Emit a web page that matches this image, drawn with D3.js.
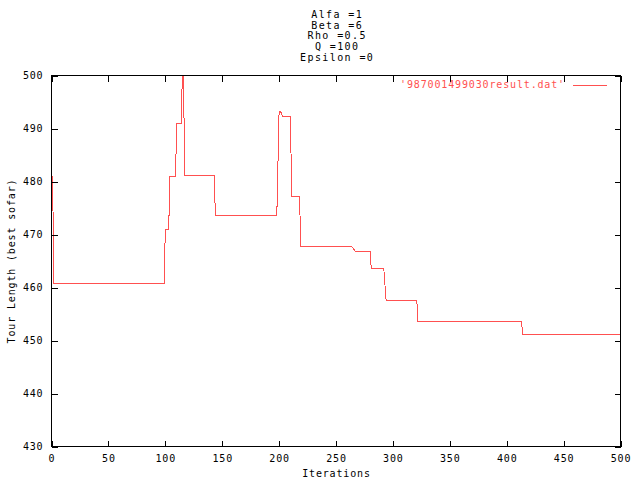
<!DOCTYPE html>
<html>
<head>
<meta charset="utf-8">
<script src="https://cdn.jsdelivr.net/npm/d3@7"></script>
<style>
  html, body { margin: 0; padding: 0; background: #fff; }
  svg { display: block; }
  text { font-family: "DejaVu Sans Mono", monospace; font-size: 10px; letter-spacing: 0.85px; fill: #000; }
  text.title { letter-spacing: 1.4px; }
</style>
</head>
<body>
<script>
// ---- data ----
const iterations = [0, 1, 2, 99, 100, 103, 104, 109, 110, 114, 115, 116, 117, 143, 144,
  198, 200, 201, 202, 203, 210, 211, 218, 219, 264, 265, 266, 267, 280, 281, 292, 294,
  321, 322, 413, 414, 500];
const tourLengths = [481, 481, 460.8, 460.8, 470.9, 470.9, 481, 481, 490.9, 490.9, 500.5, 500.5, 481.2, 481.2, 473.6,
  473.6, 493.3, 493.3, 492.9, 492.3, 492.3, 477.2, 477.2, 467.7, 467.7, 467.4, 467.15, 466.7, 466.7, 463.6, 463.6, 457.6,
  457.6, 453.6, 453.6, 451.2, 451.2];
const xTickValues = [0, 50, 100, 150, 200, 250, 300, 350, 400, 450, 500];
const yTickValues = [430, 440, 450, 460, 470, 480, 490, 500];
const titleLines = ["Alfa =1", "Beta =6", "Rho =0.5", "Q =100", "Epsilon =0"];
const xLabel = "Iterations";
const yLabel = "Tour Length (best sofar)";
const seriesName = "'987001499030result.dat'";

// ---- layout ----
const W = 640, H = 480;
const pL = 51.5, pR = 620.5, pT = 75.5, pB = 446.5;
const red = "#ff5050";

const svg = d3.select("body").append("svg").attr("width", W).attr("height", H);

const x = d3.scaleLinear().domain([0, 500]).range([pL, pR]);
const y = d3.scaleLinear().domain([430, 500]).range([pB, pT]);

// clip
svg.append("clipPath").attr("id", "plotclip")
  .append("rect").attr("x", pL).attr("y", pT).attr("width", pR - pL).attr("height", pB - pT);

// data line
const line = d3.line().x((d, i) => x(iterations[i])).y((d, i) => y(tourLengths[i]));
svg.append("path")
  .datum(tourLengths)
  .attr("clip-path", "url(#plotclip)")
  .attr("d", line)
  .attr("fill", "none")
  .attr("stroke", red)
  .attr("stroke-width", 1)
  .attr("shape-rendering", "crispEdges");

// axes with inward ticks (mirrored)
const tick = 6;
function styleAxis(g) {
  g.select(".domain").remove();
  g.selectAll(".tick line").attr("stroke", "#000").attr("shape-rendering", "crispEdges");
  g.selectAll("text").attr("fill", "#000");
  g.attr("font-family", null).attr("font-size", null);
}
svg.append("g").attr("transform", `translate(0,${pB})`)
  .call(d3.axisBottom(x).tickValues(xTickValues).tickSizeInner(-tick).tickSizeOuter(0).tickPadding(8))
  .call(styleAxis);
svg.append("g").attr("transform", `translate(0,${pT})`)
  .call(d3.axisTop(x).tickValues(xTickValues).tickSizeInner(-tick).tickSizeOuter(0).tickFormat(""))
  .call(styleAxis);
svg.append("g").attr("transform", `translate(${pL},0)`)
  .call(d3.axisLeft(y).tickValues(yTickValues).tickSizeInner(-tick).tickSizeOuter(0).tickPadding(8))
  .call(styleAxis);
svg.append("g").attr("transform", `translate(${pR},0)`)
  .call(d3.axisRight(y).tickValues(yTickValues).tickSizeInner(-tick).tickSizeOuter(0).tickFormat(""))
  .call(styleAxis);

// border
svg.append("rect")
  .attr("x", pL).attr("y", pT).attr("width", pR - pL).attr("height", pB - pT)
  .attr("fill", "none").attr("stroke", "#000").attr("stroke-width", 1)
  .attr("shape-rendering", "crispEdges");

// title
const cx = (pL + pR) / 2;
svg.append("g").selectAll("text").data(titleLines).join("text")
  .attr("class", "title")
  .attr("x", cx + 1.2).attr("y", (d, i) => 18 + i * 10.7)
  .attr("text-anchor", "middle")
  .text(d => d);

// axis labels
svg.append("text").attr("x", cx + 0.5).attr("y", 477).attr("text-anchor", "middle").text(xLabel);
svg.append("text")
  .attr("transform", `translate(14.5,${(pT + pB) / 2}) rotate(-90)`)
  .attr("text-anchor", "middle")
  .text(yLabel);

// legend
svg.append("text").attr("x", 565).attr("y", 88).attr("text-anchor", "end")
  .style("fill", red).text(seriesName);
svg.append("line").attr("x1", 573).attr("x2", 607).attr("y1", 85.5).attr("y2", 85.5)
  .attr("stroke", red).attr("stroke-width", 1).attr("shape-rendering", "crispEdges");
</script>
</body>
</html>
